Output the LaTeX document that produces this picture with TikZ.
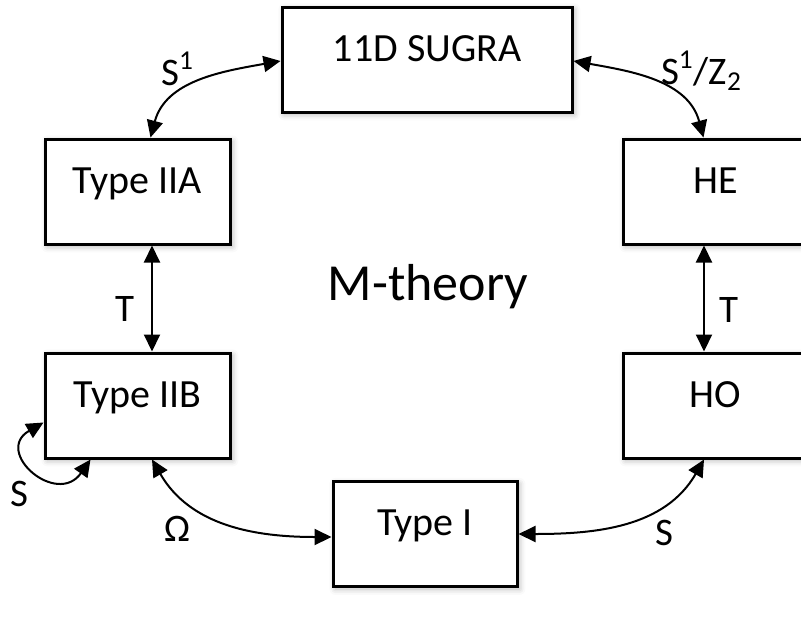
\documentclass[tikz,border=0pt]{standalone}
\usepackage{fontspec}
\setmainfont{Carlito}
\usetikzlibrary{arrows.meta,positioning,calc,shadows.blur}
\definecolor{mtInk}{HTML}{000000}
\definecolor{mtPaper}{HTML}{FFFFFF}
\tikzset{
  thy/.style={draw=mtInk, fill=mtPaper, line width=1.5pt, minimum width=92.5pt, minimum height=52.5pt, inner sep=0pt, text height=14pt, text depth=12.5pt, font=\fontsize{20}{24}\selectfont, blur shadow={shadow xshift=1.2pt, shadow yshift=-1.2pt, shadow blur radius=3pt, shadow opacity=30}},
  lbl/.style={anchor=base, inner sep=0pt, font=\fontsize{19.5}{23}\selectfont, text=mtInk},
  ttl/.style={anchor=base, inner sep=0pt, font=\fontsize{26}{30}\selectfont, text=mtInk},
  arr/.style={<->, >={Triangle[length=8.5pt,width=8pt]}, line width=1pt, draw=mtInk},
}
\begin{document}
\begin{tikzpicture}[x=0.5pt,y=0.5pt]
  \useasboundingbox (0,0) rectangle (801,-621);
  \clip (0,0) rectangle (801,-621);
  \node[thy, minimum width=145pt] (sugra) at (427,-59.5) {11D SUGRA};
  \node[thy] (iia) at (137.5,-191.5) {Type IIA};
  \node[thy, below=53pt of iia] (iib) {Type IIB};
  \node[thy] (he) at (715.5,-191.5) {HE};
  \node[thy, below=53pt of he] (ho) {HO};
  \node[thy, minimum width=92pt] (typei) at (425,-534) {Type I};
  \node[ttl] (mth) at (428,-300) {M-theory};
  % dualities
  \draw[arr] ($(sugra.west)+(0,-1.5)$) to[out=190,in=75] ($(iia.north)+(13,0)$);
  \draw[arr] ($(sugra.east)+(0,-1.5)$) to[out=-10,in=105] ($(he.north)+(-12,0)$);
  \draw[arr] ($(iia.south)+(14.5,0)$) -- ($(iib.north)+(14.5,0)$);
  \draw[arr] ($(he.south)+(-11.5,0)$) -- ($(ho.north)+(-11.5,0)$);
  \draw[arr] ($(iib.south west)+(47,0)$) to[out=235,in=210,looseness=2.5] ($(iib.south west)+(0,37)$);
  \draw[arr] ($(iib.south)+(14.5,0)$) to[out=-60,in=180] ($(typei.west)+(0,-3)$);
  \draw[arr] ($(ho.south)+(-11.5,0)$) to[out=-120,in=0] (typei.east);
  \node[lbl] (ls1) at (177.5,-85) {S\textsuperscript{1}};
  \node[lbl] (ls1z) at (701.5,-84) {S\textsuperscript{1}/Z\textsubscript{2}};
  \node[lbl] (lt1) at (125,-321) {T};
  \node[lbl] (lt2) at (729,-322) {T};
  \node[lbl] (lsb) at (19,-506) {S};
  \node[lbl] (lom) at (177.5,-541) {Ω};
  \node[lbl] (lsh) at (664,-545) {S};
\end{tikzpicture}
\end{document}
